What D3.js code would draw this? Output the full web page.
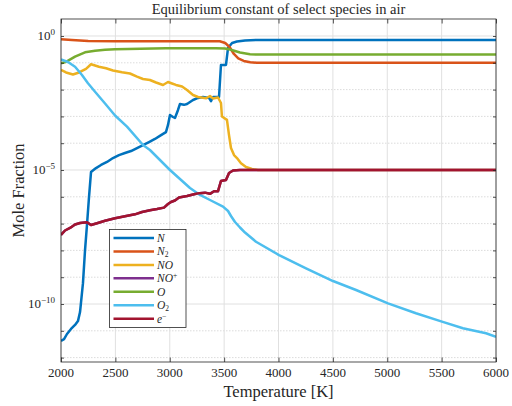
<!DOCTYPE html>
<html>
<head>
<meta charset="utf-8">
<script src="https://cdn.jsdelivr.net/npm/d3@7"></script>
<style>
  body { margin: 0; background: #fff; }
  svg { display: block; }
  text { font-family: "Liberation Serif", "Times New Roman", serif; fill: #262626; }
</style>
</head>
<body>
<svg id="chart" width="512" height="406"></svg>
<script>
// Equilibrium mole fractions of air species versus temperature, [T (K), mole fraction]
const N = [
  [2000, 4.2e-12], [2028, 4.9e-12], [2055, 7.6e-12], [2092, 1.17e-11], [2129, 1.65e-11],
  [2156, 2.3e-11], [2175, 5.0e-11], [2202, 6.0e-10], [2221, 1.03e-8], [2239, 8.9e-8],
  [2257, 9.1e-7], [2276, 8.4e-6], [2322, 1.18e-5], [2368, 1.54e-5], [2423, 2.0e-5],
  [2478, 2.8e-5], [2533, 3.6e-5], [2588, 4.3e-5], [2644, 5.1e-5], [2699, 6.6e-5],
  [2754, 8.5e-5], [2809, 1.1e-4], [2864, 1.44e-4], [2920, 2.0e-4], [2965, 2.6e-4],
  [2984, 4.8e-4], [3002, 1.13e-3], [3030, 9.5e-4], [3048, 8.7e-4], [3076, 1.74e-3],
  [3094, 2.9e-3], [3131, 2.7e-3], [3159, 2.9e-3], [3214, 4.1e-3], [3260, 4.9e-3],
  [3306, 5.3e-3], [3361, 4.9e-3], [3379, 3.7e-3], [3398, 5.3e-3], [3453, 5.3e-3],
  [3471, 8.3e-2], [3517, 8.3e-2], [3536, 0.36], [3573, 0.55], [3618, 0.62],
  [3692, 0.68], [3793, 0.71], [6000, 0.71]
];
const N2 = [
  [2000, 0.75], [2100, 0.71], [2250, 0.655], [2500, 0.64], [3460, 0.634],
  [3510, 0.548], [3550, 0.389], [3590, 0.213], [3630, 0.145], [3680, 0.117],
  [3740, 0.104], [3800, 0.101], [6000, 0.101]
];
const NO = [
  [2000, 0.054], [2046, 0.0435], [2110, 0.0365], [2166, 0.0435], [2230, 0.059],
  [2276, 0.088], [2349, 0.0715], [2414, 0.0624], [2478, 0.0516], [2561, 0.0442],
  [2634, 0.0399], [2699, 0.0303], [2754, 0.0249], [2818, 0.0228], [2874, 0.0184],
  [2938, 0.0149], [2984, 0.0192], [3021, 0.0169], [3057, 0.0149], [3113, 0.0130],
  [3159, 0.00966], [3214, 0.0063], [3260, 0.0053], [3333, 0.00473], [3370, 0.00577],
  [3398, 0.00466], [3444, 0.00507], [3471, 0.00316], [3480, 0.00099], [3526, 7.4e-4],
  [3545, 2.0e-4], [3563, 6.6e-5], [3591, 3.6e-5], [3618, 2.8e-5], [3655, 1.8e-5],
  [3701, 1.29e-5], [3756, 1.09e-5], [3811, 1.0e-5], [6000, 1.0e-5]
];
const ELECTRON = [
  [2000, 3.76e-8], [2037, 5.53e-8], [2083, 6.86e-8], [2129, 9.25e-8], [2175, 1.05e-7],
  [2239, 1.13e-7], [2276, 8.87e-8], [2331, 1.03e-7], [2405, 1.28e-7], [2497, 1.58e-7],
  [2588, 1.87e-7], [2680, 2.22e-7], [2745, 2.71e-7], [2818, 3.16e-7], [2883, 3.51e-7],
  [2947, 3.95e-7], [2984, 5.38e-7], [3011, 6.4e-7], [3048, 7.28e-7], [3085, 9.4e-7],
  [3159, 1.07e-6], [3251, 1.33e-6], [3324, 1.43e-6], [3370, 1.29e-6], [3407, 1.62e-6],
  [3444, 1.62e-6], [3471, 3.89e-6], [3517, 4.24e-6], [3545, 7.73e-6], [3582, 9.58e-6],
  [3646, 1.0e-5], [6000, 1.0e-5]
];
// charge neutrality: the NO+ fraction equals the electron fraction
const NO_PLUS = ELECTRON.map(d => [d[0], d[1]]);
const O = [
  [2000, 0.0958], [2050, 0.11], [2129, 0.169], [2221, 0.246], [2313, 0.283],
  [2405, 0.305], [2497, 0.319], [2965, 0.348], [3425, 0.348], [3508, 0.342],
  [3554, 0.313], [3646, 0.242], [3738, 0.208], [3793, 0.204], [6000, 0.204]
];
const O2 = [
  [2000, 0.133], [2064, 0.107], [2129, 0.0715], [2193, 0.0351], [2248, 0.0172],
  [2313, 0.00835], [2405, 0.00303], [2497, 1.08e-3], [2607, 4.13e-4], [2754, 8.57e-5],
  [2818, 5.57e-5], [2910, 2.36e-5], [3002, 1.0e-5], [3094, 4.6e-6], [3186, 2.13e-6],
  [3278, 1.17e-6], [3370, 7.6e-7], [3490, 4.28e-7], [3536, 2.95e-7], [3563, 1.92e-7],
  [3600, 1.15e-7], [3646, 7.15e-8], [3692, 4.65e-8], [3793, 2.11e-8], [4005, 6.7e-9],
  [4253, 2.15e-9], [4501, 7.2e-10], [4713, 3.33e-10], [5007, 1.06e-10], [5264, 4.5e-11],
  [5503, 2.19e-11], [5696, 1.24e-11], [5908, 8.07e-12], [6000, 6.0e-12]
];

const seriesData = [N, N2, NO, NO_PLUS, O, O2, ELECTRON];
const seriesColors = ["#0072BD", "#D95319", "#EDB120", "#7E2F8E", "#77AC30", "#4DBEEE", "#A2142F"];
// legend labels: [base, script, kind] where kind is "sub" or "sup"
const legendLabels = [["N"], ["N", "2", "sub"], ["NO"], ["NO", "+", "sup"], ["O"], ["O", "2", "sub"], ["e", "\u2212", "sup"]];

const temperatureTicks = [2000, 2500, 3000, 3500, 4000, 4500, 5000, 5500, 6000];
const majorExponents = [0, -5, -10];
const minorExponents = d3.range(-12, 1);
const temperatureDomain = [2000, 6000];
const fractionDomain = [Math.pow(10, -12.164), Math.pow(10, 0.634)];

(function draw() {
  const svg = d3.select("#chart");
  const plotLeft = 61, plotRight = 496, plotTop = 19, plotBottom = 362;

  const x = d3.scaleLinear().domain(temperatureDomain).range([plotLeft, plotRight]);
  const y = d3.scaleLog().domain(fractionDomain).range([plotBottom, plotTop]);

  // grid
  const grid = svg.append("g");
  grid.selectAll("line.minor")
    .data(minorExponents.filter(e => !majorExponents.includes(e)))
    .join("line")
    .attr("x1", plotLeft).attr("x2", plotRight)
    .attr("y1", e => y(Math.pow(10, e))).attr("y2", e => y(Math.pow(10, e)))
    .attr("stroke", "#d2d2d2").attr("stroke-width", 0.8).attr("stroke-dasharray", "1.5,1.5");
  grid.selectAll("line.hmajor")
    .data(majorExponents)
    .join("line")
    .attr("x1", plotLeft).attr("x2", plotRight)
    .attr("y1", e => y(Math.pow(10, e))).attr("y2", e => y(Math.pow(10, e)))
    .attr("stroke", "#e0e0e0").attr("stroke-width", 1);
  grid.selectAll("line.vmajor")
    .data(temperatureTicks)
    .join("line")
    .attr("x1", d => x(d)).attr("x2", d => x(d))
    .attr("y1", plotTop).attr("y2", plotBottom)
    .attr("stroke", "#e0e0e0").attr("stroke-width", 1);

  // series
  svg.append("clipPath").attr("id", "plot-clip")
    .append("rect").attr("x", plotLeft).attr("y", plotTop)
    .attr("width", plotRight - plotLeft).attr("height", plotBottom - plotTop);

  const line = d3.line().x(d => x(d[0])).y(d => y(d[1]));
  svg.append("g").attr("clip-path", "url(#plot-clip)")
    .selectAll("path")
    .data(seriesData)
    .join("path")
    .attr("d", line)
    .attr("fill", "none")
    .attr("stroke", (d, i) => seriesColors[i])
    .attr("stroke-width", 2.5)
    .attr("stroke-linejoin", "round");

  // axes with inward ticks on all four sides
  const axisColor = "#262626";
  const tickFmt = () => "";
  const decadeTicks = minorExponents.map(e => Math.pow(10, e));
  svg.append("g").attr("transform", `translate(0,${plotBottom})`)
    .call(d3.axisTop(x).tickValues(temperatureTicks).tickSize(4.5).tickFormat(tickFmt));
  svg.append("g").attr("transform", `translate(0,${plotTop})`)
    .call(d3.axisBottom(x).tickValues(temperatureTicks).tickSize(4.5).tickFormat(tickFmt));
  svg.append("g").attr("transform", `translate(${plotLeft},0)`)
    .call(d3.axisRight(y).tickValues(decadeTicks).tickSize(3).tickFormat(tickFmt));
  svg.append("g").attr("transform", `translate(${plotRight},0)`)
    .call(d3.axisLeft(y).tickValues(decadeTicks).tickSize(3).tickFormat(tickFmt));
  svg.selectAll(".domain").remove();
  svg.selectAll(".tick line").attr("stroke", axisColor).attr("stroke-width", 0.8);
  svg.append("rect")
    .attr("x", plotLeft).attr("y", plotTop)
    .attr("width", plotRight - plotLeft).attr("height", plotBottom - plotTop)
    .attr("fill", "none").attr("stroke", axisColor).attr("stroke-width", 0.8);

  // tick labels
  svg.append("g").selectAll("text")
    .data(temperatureTicks)
    .join("text")
    .attr("x", d => x(d)).attr("y", 377)
    .attr("text-anchor", "middle")
    .attr("font-size", 13)
    .text(d => d);

  const yLabels = svg.append("g").selectAll("text")
    .data(majorExponents)
    .join("text")
    .attr("x", 55).attr("y", e => y(Math.pow(10, e)) + 4)
    .attr("text-anchor", "end")
    .attr("font-size", 13);
  yLabels.append("tspan").text("10");
  yLabels.append("tspan").attr("dy", -5).attr("font-size", 9)
    .text(e => (e < 0 ? "\u2212" + (-e) : String(e)));

  // titles
  svg.append("text")
    .attr("x", (plotLeft + plotRight) / 2).attr("y", 14)
    .attr("text-anchor", "middle").attr("font-size", 14.5)
    .text("Equilibrium constant of select species in air");
  svg.append("text")
    .attr("x", (plotLeft + plotRight) / 2).attr("y", 397)
    .attr("text-anchor", "middle").attr("font-size", 16.5)
    .text("Temperature [K]");
  svg.append("text")
    .attr("transform", `translate(24,${(plotTop + plotBottom) / 2}) rotate(-90)`)
    .attr("text-anchor", "middle").attr("font-size", 16.5)
    .text("Mole Fraction");

  // legend
  const legend = svg.append("g");
  legend.append("rect")
    .attr("x", 109.5).attr("y", 229.5).attr("width", 76.5).attr("height", 98)
    .attr("fill", "#fff").attr("stroke", axisColor).attr("stroke-width", 0.8);
  const rows = legend.selectAll("g.row")
    .data(legendLabels)
    .join("g")
    .attr("transform", (d, i) => `translate(0,${238 + i * 13.45})`);
  rows.append("line")
    .attr("x1", 113.5).attr("x2", 154)
    .attr("stroke", (d, i) => seriesColors[i]).attr("stroke-width", 2.5);
  const lt = rows.append("text")
    .attr("x", 157).attr("y", 4)
    .attr("font-size", 11.5);
  lt.append("tspan").attr("font-style", "italic").text(d => d[0]);
  lt.filter(d => d.length > 1).append("tspan")
    .attr("font-size", 7.5)
    .attr("dy", d => (d[2] === "sub" ? 1.5 : -4))
    .text(d => d[1]);
})();
</script>
</body>
</html>
